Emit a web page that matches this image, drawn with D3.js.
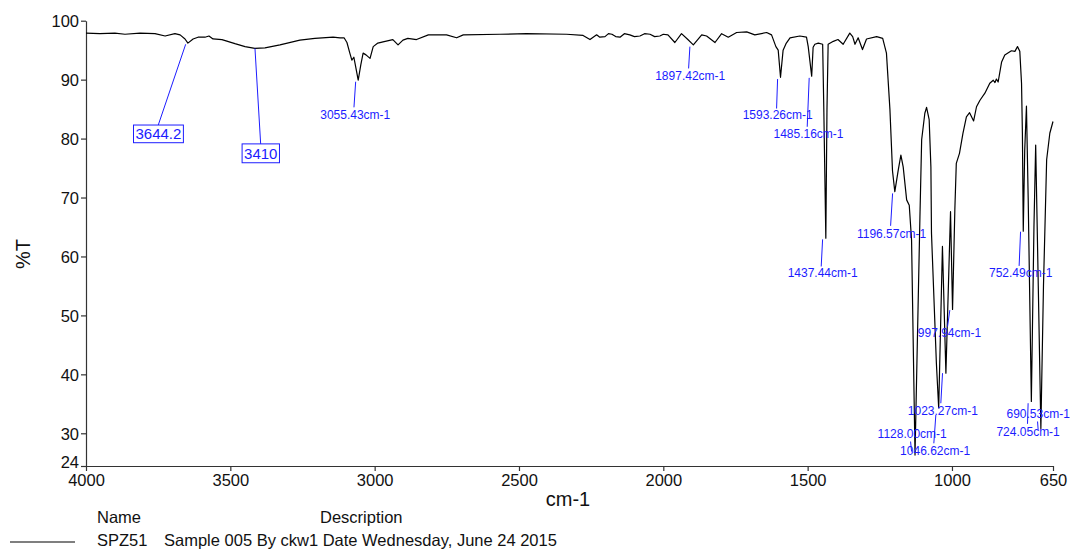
<!DOCTYPE html>
<html>
<head>
<meta charset="utf-8">
<script src="https://cdn.jsdelivr.net/npm/d3@7"></script>
<style>
  body { margin: 0; background: #fff; }
  svg { display: block; }
  text { font-family: "Liberation Sans", Arial, sans-serif; }
</style>
</head>
<body>
<svg id="chart" width="1071" height="551"></svg>
<script>
// IR spectrum of sample SPZ51: wavenumber (cm-1) and transmittance (%T)
const wavenumbers = [
  4000, 3952, 3900, 3865, 3813, 3761, 3726, 3692, 3674, 3657,
  3647, 3629, 3612, 3588, 3574, 3560, 3529, 3484, 3449, 3415,
  3380, 3328, 3259, 3207, 3144, 3120, 3106, 3096, 3086, 3079,
  3072, 3065, 3057, 3048, 3040, 3030, 3023, 3016, 3005, 2989,
  2971, 2937, 2919, 2902, 2885, 2855, 2814, 2751, 2716, 2693,
  2566, 2474, 2335, 2278, 2254, 2231, 2220, 2202, 2190, 2178,
  2165, 2150, 2135, 2116, 2100, 2081, 2065, 2046, 2030, 2012,
  2000, 1984, 1960, 1937, 1915, 1896, 1867, 1850,
  1821, 1798, 1775, 1746, 1711, 1683, 1642, 1625, 1610, 1602,
  1594, 1585, 1575, 1561, 1527, 1504, 1498, 1486, 1481, 1475,
  1463, 1448, 1444, 1437, 1433, 1429, 1411, 1395, 1377, 1354,
  1344, 1336, 1325, 1310, 1296, 1261, 1240, 1227, 1215, 1206,
  1198, 1186, 1177, 1169, 1157, 1148, 1140, 1128, 1111, 1105,
  1094, 1088, 1079, 1073, 1071, 1054, 1046, 1033, 1021, 1005,
  998, 990, 985, 974, 962, 950, 939, 925, 915, 903,
  886, 869, 857, 851, 846, 840, 828, 817, 794, 782,
  773, 765, 759, 756, 753, 748, 742, 736, 725, 716,
  710, 701, 692, 683, 672, 661, 650
];
const transmittance = [
  97.9, 97.8, 97.9, 97.7, 97.9, 97.8, 97.4, 97.8, 97.6, 96.9,
  96.2, 96.9, 97.2, 97.2, 97.4, 96.9, 96.8, 96.1, 95.6, 95.3,
  95.4, 95.9, 96.7, 97.0, 97.2, 97.1, 97.1, 96.3, 94.5, 93.3,
  93.8, 92.0, 89.9, 92.5, 94.5, 94.2, 93.9, 93.6, 95.6, 96.2,
  96.4, 96.8, 95.9, 96.7, 97.0, 96.8, 97.6, 97.6, 97.1, 97.6,
  97.7, 97.8, 97.7, 97.5, 96.8, 97.6, 97.2, 97.3, 97.8, 97.7,
  97.3, 97.2, 97.8, 97.6, 97.3, 97.4, 97.8, 97.7, 97.3, 97.4,
  97.7, 97.6, 96.3, 97.8, 96.8, 95.9, 97.6, 97.4,
  96.3, 97.8, 97.2, 98.0, 98.1, 97.6, 98.0, 97.6, 95.6, 95.0,
  90.4, 95.0, 96.1, 97.1, 97.4, 97.2, 95.6, 90.6, 95.5, 96.0,
  96.2, 96.0, 85.0, 63.1, 85.0, 96.0, 96.5, 96.8, 96.0, 97.9,
  97.3, 96.0, 97.1, 95.1, 96.9, 97.3, 97.0, 94.5, 85.0, 74.5,
  71.0, 74.7, 77.2, 75.2, 69.6, 68.7, 62.8, 26.3, 66.7, 79.8,
  84.3, 85.3, 83.2, 75.2, 64.0, 41.9, 34.3, 61.7, 40.2, 67.6,
  51.0, 68.0, 75.8, 77.5, 80.9, 83.7, 84.4, 83.0, 85.4, 86.5,
  87.7, 89.4, 89.9, 89.5, 90.1, 89.6, 93.0, 94.2, 94.9, 94.8,
  95.6, 94.8, 89.4, 80.9, 64.3, 78.0, 85.5, 70.0, 35.4, 65.0,
  78.9, 55.0, 30.8, 55.0, 76.4, 80.9, 82.9
];

// Axis ticks
const xTickValues = [4000, 3500, 3000, 2500, 2000, 1500, 1000, 650];
const yMin = 24.45;
const yTickValues = [yMin, 30, 40, 50, 60, 70, 80, 90, 100];
const yTickLabels = ["24", "30", "40", "50", "60", "70", "80", "90", "100"];

// Peak annotations: label, leader [wn1, T1, wn2, T2], label centre [wn, T]
const peakLabels = ["3055.43cm-1", "1897.42cm-1", "1593.26cm-1", "1485.16cm-1", "1437.44cm-1",
  "1196.57cm-1", "752.49cm-1", "997.94cm-1", "1023.27cm-1", "1128.00cm-1", "1046.62cm-1",
  "690.53cm-1", "724.05cm-1"];
const peakLeaders = [
  [3065.8, 89.65, 3071.7, 85.3],
  [1907.9, 95.6, 1912.4, 91.9],
  [1604.1, 90.1, 1607.6, 85.1],
  [1494.6, 90.3, 1501.5, 82.0],
  [1448.2, 62.9, 1453.0, 58.3],
  [1205.7, 70.7, 1212.6, 65.2],
  [762.4, 64.2, 767.3, 58.4],
  [1007.4, 50.9, 1015.4, 48.1],
  [1032.7, 40.2, 1038.6, 35.1],
  [1143.4, 28.6, 1139.9, 26.9],
  [1055.9, 33.1, 1062.8, 28.3],
  [736.2, 35.1, 738.3, 31.6],
  [703.5, 32.0, 701.4, 30.6]
];
const peakLabelPos = [
  [3067.2, 84.0], [1906.8, 90.6], [1603.8, 84.0], [1497.1, 80.8], [1447.9, 57.2],
  [1209.3, 63.8], [762.1, 57.2], [1008.4, 47.0], [1031.6, 33.8], [1137.8, 29.9],
  [1058.3, 27.0], [701.4, 33.3], [736.2, 30.3]
];

// Boxed annotations
const boxLabels = ["3644.2", "3410"];
const boxLeaders = [
  [3654.7, 96.0, 3749.6, 82.3],
  [3414.6, 95.3, 3394.9, 79.1]
];
const boxLabelPos = [[3749.0, 80.8], [3394.5, 77.5]];

// Legend
const legendHeaders = ["Name", "Description"];
const sampleName = "SPZ51";
const sampleDescription = "Sample 005 By ckw1 Date Wednesday, June 24 2015";

const svg = d3.select("#chart");
const x = d3.scaleLinear().domain([4000, 650]).range([86, 1053]);
const y = d3.scaleLinear().domain([yMin, 100]).range([466, 20.7]);
const blue = "#1c1cff";
const axisColor = "#333";

// Axes
const yAxis = d3.axisLeft(y).tickValues(yTickValues)
  .tickFormat((d, i) => yTickLabels[i]).tickSize(5).tickSizeOuter(0).tickPadding(2);
const gy = svg.append("g").attr("transform", `translate(${x(4000)},0)`).call(yAxis);
const xAxis = d3.axisBottom(x).tickValues(xTickValues)
  .tickFormat(d3.format("d")).tickSize(5).tickSizeOuter(0).tickPadding(2);
const gx = svg.append("g").attr("transform", `translate(0,${y(yMin)})`).call(xAxis);
[gx, gy].forEach(g => {
  g.select(".domain").attr("stroke", axisColor).attr("stroke-width", 1.2);
  g.selectAll(".tick line").attr("stroke", axisColor).attr("stroke-width", 1.2);
  g.selectAll(".tick text").attr("fill", "#111").style("font-size", "16.5px")
    .style("font-family", '"Liberation Sans", Arial, sans-serif');
});
gy.selectAll(".tick text").attr("dy", (d, i) => i === 0 ? "0.12em" : "0.35em");
gx.selectAll(".tick text").attr("dy", "0.78em");

// Axis titles
svg.append("text").attr("x", 568).attr("y", 506).attr("text-anchor", "middle")
  .style("font-size", "20px").attr("fill", "#111").text("cm-1");
svg.append("text").attr("transform", "translate(30,254) rotate(-90)").attr("text-anchor", "middle")
  .style("font-size", "20px").attr("fill", "#111").text("%T");

// Spectrum
const pts = wavenumbers.map((w, i) => [w, transmittance[i]]);
svg.append("path").datum(pts)
  .attr("fill", "none").attr("stroke", "#000").attr("stroke-width", 1.2)
  .attr("stroke-linejoin", "round")
  .attr("d", d3.line().x(d => x(d[0])).y(d => y(d[1])));

// Peak labels
const ann = svg.append("g");
peakLabels.forEach((t, i) => {
  const l = peakLeaders[i];
  ann.append("line").attr("x1", x(l[0])).attr("y1", y(l[1])).attr("x2", x(l[2])).attr("y2", y(l[3]))
    .attr("stroke", blue).attr("stroke-width", 1);
  ann.append("text").attr("x", x(peakLabelPos[i][0])).attr("y", y(peakLabelPos[i][1]))
    .attr("dy", "0.35em").attr("text-anchor", "middle").attr("fill", blue)
    .style("font-size", "12px").text(t);
});

// Boxed labels
boxLabels.forEach((t, i) => {
  const l = boxLeaders[i];
  ann.append("line").attr("x1", x(l[0])).attr("y1", y(l[1])).attr("x2", x(l[2])).attr("y2", y(l[3]))
    .attr("stroke", blue).attr("stroke-width", 1);
  const tx = ann.append("text").attr("x", x(boxLabelPos[i][0])).attr("y", y(boxLabelPos[i][1]))
    .attr("dy", "0.35em").attr("text-anchor", "middle").attr("fill", blue)
    .style("font-size", "15px").text(t);
  const bb = tx.node().getBBox();
  ann.insert("rect", "text").attr("x", bb.x - 2).attr("y", y(l[3]))
    .attr("width", bb.width + 4).attr("height", 2 * (y(boxLabelPos[i][1]) - y(l[3])))
    .attr("fill", "none").attr("stroke", blue).attr("stroke-width", 1);
});

// Legend
const lg = svg.append("g").style("font-size", "16.5px").attr("fill", "#111");
lg.append("text").attr("x", 97).attr("y", 523).text(legendHeaders[0]);
lg.append("text").attr("x", 320).attr("y", 523).text(legendHeaders[1]);
lg.append("line").attr("x1", 10).attr("x2", 75).attr("y1", 542).attr("y2", 542)
  .attr("stroke", "#000").attr("stroke-width", 1.2);
lg.append("text").attr("x", 97).attr("y", 546).text(sampleName);
lg.append("text").attr("x", 164).attr("y", 546).text(sampleDescription);
</script>
</body>
</html>
